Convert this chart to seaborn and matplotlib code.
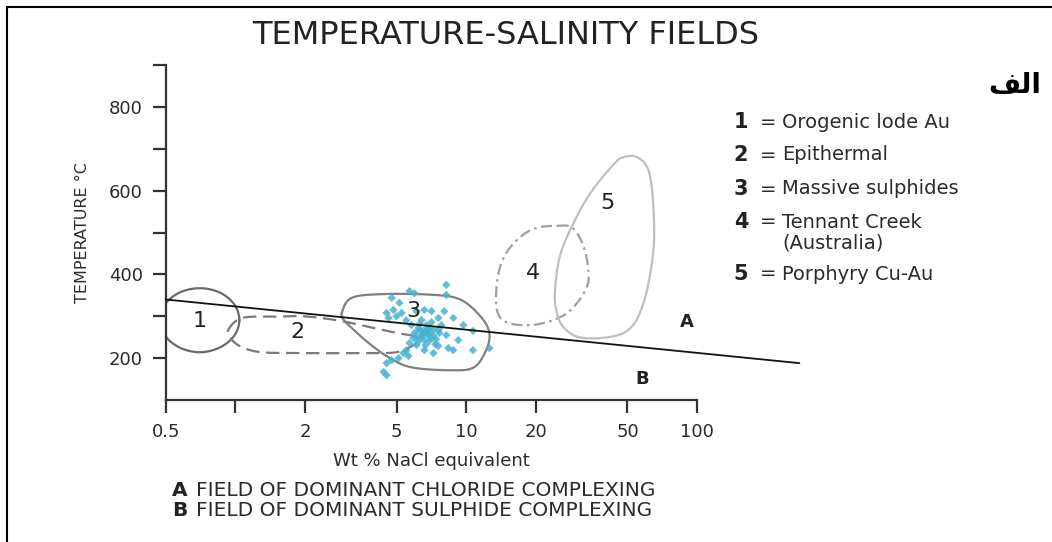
import numpy as np
import matplotlib
matplotlib.use("Agg")
import matplotlib.pyplot as plt
from matplotlib.lines import Line2D
import seaborn as sns

# boundary line between chloride (A) and sulphide (B) complexing
boundary_wt = [0.5, 278]
boundary_t = [340, 188]

# field outlines (wt % NaCl, temperature °C)
field1_wt = [1.04, 0.986, 0.853, 0.700, 0.574, 0.496, 0.470, 0.496, 0.574, 0.700, 0.853, 0.986]
field1_t = [291, 329, 357, 367, 357, 329, 291, 253, 225, 214, 225, 253]

field2_wt = [0.93, 1.07, 1.5, 1.95, 2.72, 3.83, 5.0, 5.9, 6.1, 5.9, 4.96, 3.5, 1.95, 1.3, 1.07, 0.96]
field2_t = [267, 296, 299, 300, 291, 274, 260, 253, 243, 231, 214, 212, 212, 214, 226, 245]

field3_wt = [2.89, 3.19, 4.43, 7.28, 9.51, 11.6, 12.6, 12.2, 10.8, 8.62, 5.79, 4.61, 3.78, 3.19, 2.95]
field3_t = [308, 344, 353, 351, 339, 298, 260, 219, 178, 171, 178, 202, 236, 272, 291]

field4_wt = [24.9, 28.9, 32.3, 33.9, 32.9, 28.4, 23.9, 19.1, 15.2, 13.7, 13.5, 14.2, 16.1, 19.6]
field4_t = [516, 511, 466, 403, 363, 315, 291, 279, 284, 308, 363, 427, 475, 509]

field5_wt = [48.0, 55.0, 61.5, 64.6, 64.6, 57.9, 48.0, 32.3, 26.4, 24.4, 24.4, 25.7, 29.2, 34.6, 43.4]
field5_t = [680, 680, 650, 571, 451, 322, 260, 248, 274, 322, 379, 451, 523, 595, 662]

field_labels = ["1", "2", "3", "4", "5"]
label_wt = [0.70, 1.85, 5.9, 19.5, 41]
label_t = [288, 262, 312, 403, 571]

# fluid inclusion data (massive sulphides)
incl_wt = [8.20, 8.20, 5.68, 5.97, 4.75, 5.14, 4.84, 4.52, 4.61, 4.99, 6.09, 6.59, 7.07, 8.04,
           7.57, 8.79, 6.40, 6.72, 6.21, 5.97, 6.53, 6.93, 7.21, 6.27, 5.91, 6.59, 5.68, 6.09,
           7.21, 7.65, 8.20, 7.57, 8.36, 8.79, 10.7, 12.6, 10.7, 9.71, 7.21, 6.59, 5.51, 5.35,
           5.62, 5.09, 4.75, 4.52, 4.39, 4.52, 5.25, 6.79, 6.40, 6.93, 6.27, 7.07, 5.79, 7.80,
           6.66, 6.03, 7.35, 9.24, 6.7, 7.0, 6.5, 6.9, 6.2, 7.4, 6.8, 6.3, 7.6, 5.5]
incl_t = [375, 351, 360, 355, 344, 332, 315, 308, 296, 300, 312, 315, 312, 312,
          296, 296, 291, 279, 272, 260, 265, 272, 267, 248, 248, 243, 236, 231,
          253, 260, 255, 229, 224, 219, 219, 224, 265, 279, 212, 219, 219, 212,
          205, 200, 195, 188, 167, 159, 308, 257, 253, 241, 267, 286, 279, 279,
          231, 253, 233, 243, 262, 250, 258, 262, 240, 245, 270, 282, 268, 290]

x_ticks = [0.5, 1, 2, 5, 10, 20, 50, 100]
x_ticklabels = ["0.5", "", "2", "5", "10", "20", "50", "100"]
y_ticks = [200, 300, 400, 500, 600, 700, 800, 900]
y_ticklabels = ["200", "", "400", "", "600", "", "800", ""]

legend_num = ["1", "2", "3", "4", "", "5"]
legend_txt = ["Orogenic lode Au", "Epithermal", "Massive sulphides", "Tennant Creek",
              "(Australia)", "Porphyry Cu-Au"]


def smooth_closed(wt, t, n=24):
    # closed Catmull-Rom curve through the outline points, in log-wt space
    p = np.column_stack([np.log10(wt), t])
    pts = np.vstack([p[-1], p, p[0], p[1]])
    s = np.linspace(0, 1, n, endpoint=False)[:, None]
    out = []
    for i in range(1, len(p) + 1):
        p0, p1, p2, p3 = pts[i - 1], pts[i], pts[i + 1], pts[i + 2]
        out.append(0.5 * (2 * p1 + (p2 - p0) * s + (2 * p0 - 5 * p1 + 4 * p2 - p3) * s ** 2
                          + (3 * p1 - p0 - 3 * p2 + p3) * s ** 3))
    out = np.vstack(out + [p[:1]])
    return 10 ** out[:, 0], out[:, 1]


sns.set_style("white")
plt.rcParams["font.family"] = ["DejaVu Sans"]
txt = "#2b2b2b"

fig = plt.figure(figsize=(10.52, 5.42), dpi=100)
ax = fig.add_axes([0.1578, 0.262, 0.5047, 0.618])

fields = [
    (field1_wt, field1_t, "#6a6a6a", "-"),
    (field2_wt, field2_t, "#7a7a7a", (0, (6, 3))),
    (field3_wt, field3_t, "#808080", "-"),
    (field4_wt, field4_t, "#a0a0a0", (0, (5, 2, 1.2, 2))),
    (field5_wt, field5_t, "#bfbfbf", "-"),
]
for wt, t, c, ls in fields:
    sx, sy = smooth_closed(wt, t)
    ax.plot(sx, sy, color=c, lw=1.6, ls=ls, zorder=2)

sns.scatterplot(x=incl_wt, y=incl_t, marker="D", s=18, color="#48b2cf",
                edgecolor="none", alpha=0.85, ax=ax, zorder=3)

ax.plot(boundary_wt, boundary_t, color="#111111", lw=1.3, clip_on=False, zorder=4)

for lab, x, y in zip(field_labels, label_wt, label_t):
    ax.text(x, y, lab, fontsize=16, color="#222222", ha="center", va="center", zorder=5)

ax.text(90, 286, "A", fontsize=13, fontweight="bold", color="#222222", ha="center", va="center")
ax.text(58, 150, "B", fontsize=13, fontweight="bold", color="#222222", ha="center", va="center")

ax.set_xscale("log")
ax.set_xlim(0.5, 100)
ax.set_ylim(100, 900)
ax.set_xticks(x_ticks)
ax.set_xticklabels(x_ticklabels)
ax.xaxis.set_minor_locator(matplotlib.ticker.NullLocator())
ax.set_yticks(y_ticks)
ax.set_yticklabels(y_ticklabels)
ax.xaxis.get_major_ticks()[0].tick1line.set_visible(False)

for side in ["top", "right"]:
    ax.spines[side].set_visible(False)
for side in ["left", "bottom"]:
    ax.spines[side].set_color("#333333")
    ax.spines[side].set_linewidth(1.6)
ax.tick_params(axis="both", direction="out", length=9.5, width=1.6, color="#333333",
               labelsize=13, labelcolor=txt, pad=7, left=True, bottom=True)
ax.set_xlabel("Wt % NaCl equivalent", fontsize=13, color=txt, labelpad=8)
ax.set_ylabel("TEMPERATURE °C", fontsize=11.5, color=txt, labelpad=14)

fig.text(0.481, 0.935, "TEMPERATURE-SALINITY FIELDS", fontsize=23, color="#222222",
         ha="center", va="center")

# numbered key on the right
key_y = [122, 155, 189, 222, 243, 274]
for num, lab, yp in zip(legend_num, legend_txt, key_y):
    fy = 1 - yp / 542
    if num:
        fig.text(741 / 1052, fy, num, fontsize=15, fontweight="bold", color="#222222",
                 ha="center", va="center")
        fig.text(768 / 1052, fy, "=", fontsize=14, color=txt, ha="center", va="center")
    fig.text(782 / 1052, fy, lab, fontsize=14, color=txt, ha="left", va="center")

# notes under the chart
for yp, letter, note in [(490, "A", "FIELD OF DOMINANT CHLORIDE COMPLEXING"),
                         (511, "B", "FIELD OF DOMINANT SULPHIDE COMPLEXING")]:
    fy = 1 - yp / 542
    fig.text(172 / 1052, fy, letter, fontsize=14.5, fontweight="bold",
             color="#222222", ha="left", va="center")
    fig.text(196 / 1052, fy, note, fontsize=14.5, color=txt, ha="left", va="center")

fig.text(1015 / 1052, 1 - 85 / 542, "\ufed2\ufedf\ufe8d", fontsize=20, fontweight="bold",
         color="black", ha="center", va="center")

# frame lines at the top and left of the page
fig.add_artist(Line2D([7 / 1052, 7 / 1052], [0, 1 - 7 / 542], transform=fig.transFigure,
                      color="black", lw=1.5))
fig.add_artist(Line2D([7 / 1052, 1], [1 - 7 / 542, 1 - 7 / 542], transform=fig.transFigure,
                      color="black", lw=1.5))

fig.savefig("out.png", dpi=100)
